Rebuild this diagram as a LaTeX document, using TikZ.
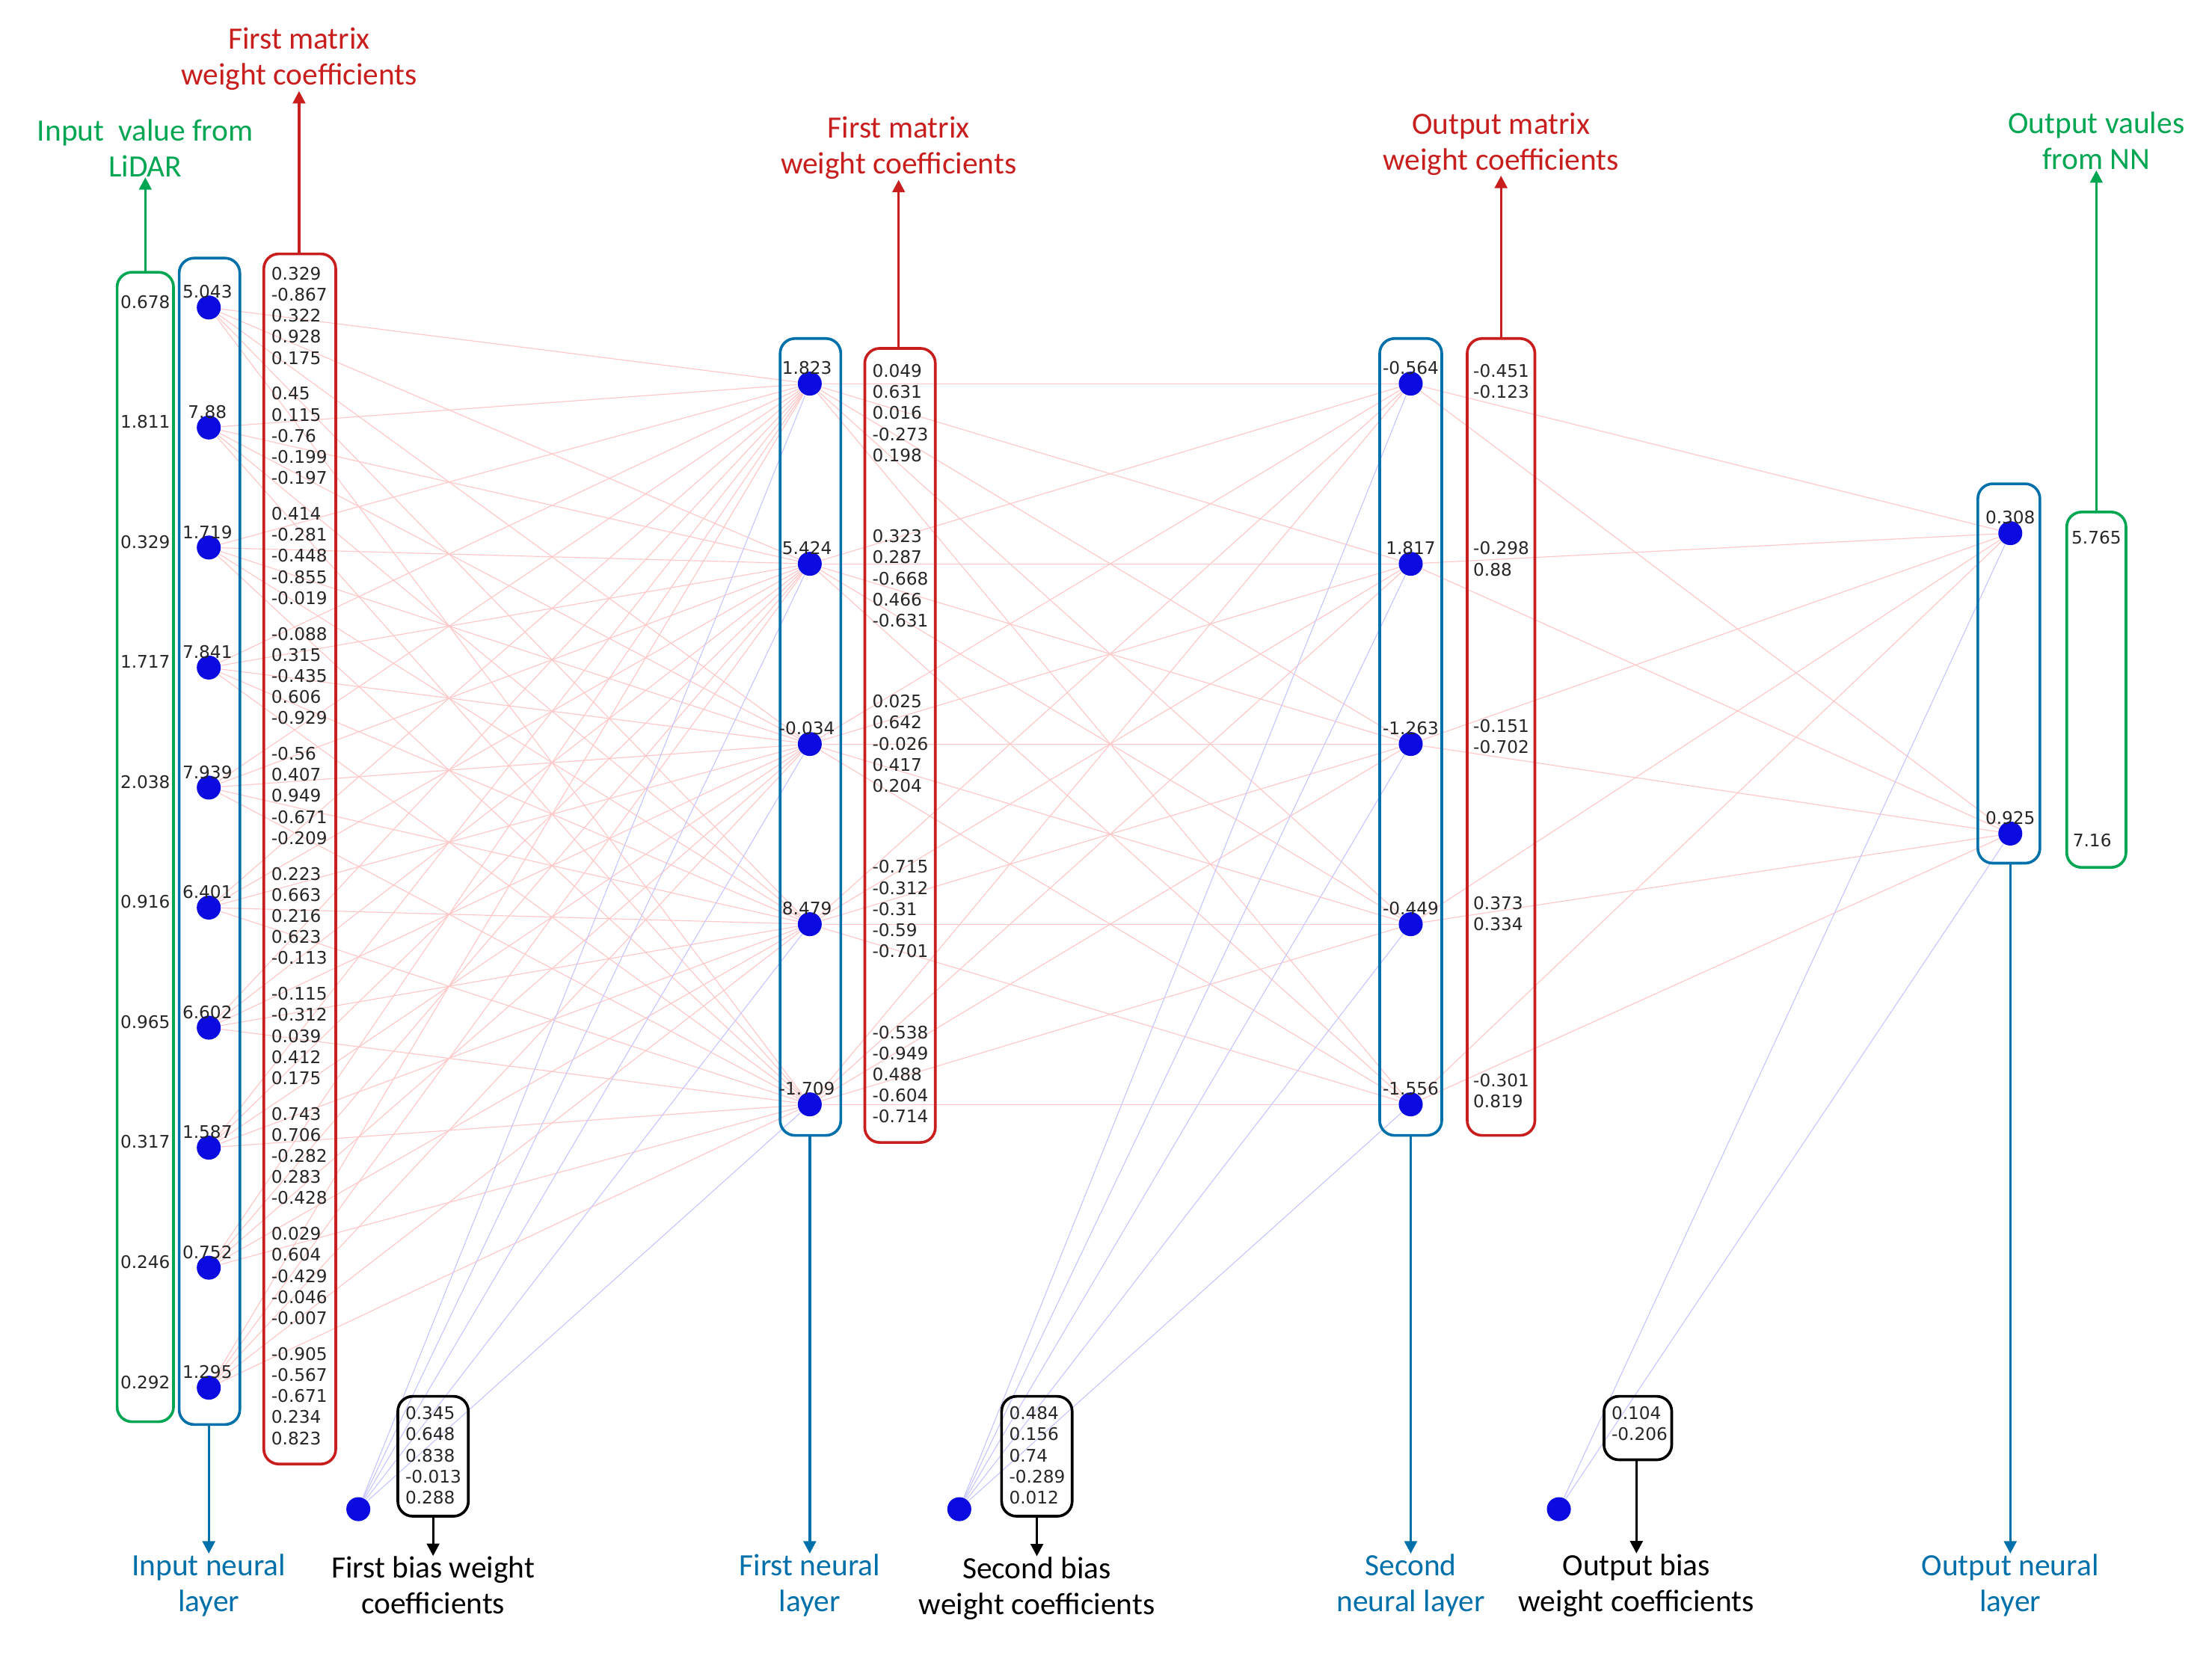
\documentclass[tikz,border=0pt]{standalone}
\usepackage{fontspec}
\setmainfont{Carlito}
\newfontfamily\numfont{DejaVu Sans}
\usetikzlibrary{arrows.meta,positioning,calc}
\definecolor{nngreen}{RGB}{0,166,81}
\definecolor{nnblue}{RGB}{0,112,170}
\definecolor{nnred}{RGB}{200,30,30}
\definecolor{dotblue}{RGB}{10,10,225}
\tikzset{
  neuron/.style={circle,fill=dotblue,draw=none,minimum size=0.34cm,inner sep=0pt},
  num/.style={font=\numfont\fontsize{7}{8.5}\selectfont,text=black!85,inner sep=0pt,align=left},
  lab/.style={font=\fontsize{12.5}{14.5}\selectfont,align=center,inner sep=0pt},
  layerbox/.style={draw=nnblue,line width=1.1pt,rounded corners=6pt},
  weightbox/.style={draw=nnred,line width=1.1pt,rounded corners=6pt},
  valbox/.style={draw=nngreen,line width=1.1pt,rounded corners=6pt},
  biasbox/.style={draw=black,line width=1.1pt,rounded corners=6pt},
  wline/.style={red!22,line width=0.35pt},
  bline/.style={blue!22,line width=0.35pt},
  up/.style={-{Triangle[length=5pt,width=5pt]},line width=1pt},
}
\begin{document}
\begin{tikzpicture}[x=0.02cm,y=-0.02cm]
\useasboundingbox (0,0) rectangle (1568,1178);

% Neurons
\foreach \i in {1,...,10} {
  \pgfmathsetmacro\y{218+85.1*(\i-1)}
  \node[neuron] (in\i) at (148,\y) {};
}
\foreach \i in {1,...,5} {
  \pgfmathsetmacro\y{272+127.75*(\i-1)}
  \node[neuron] (ha\i) at (574,\y) {};
  \node[neuron] (hb\i) at (1000,\y) {};
}
\node[neuron] (out1) at (1425,378) {};
\node[neuron] (out2) at (1425,591) {};
\node[neuron] (bias1) at (254,1070) {};
\node[neuron] (bias2) at (680,1070) {};
\node[neuron] (bias3) at (1105,1070) {};

% Connections
\foreach \i in {1,...,10} \foreach \j in {1,...,5} \draw[wline] (in\i) -- (ha\j);
\foreach \i in {1,...,5} \foreach \j in {1,...,5} \draw[wline] (ha\i) -- (hb\j);
\foreach \i in {1,...,5} \foreach \j in {1,2} \draw[wline] (hb\i) -- (out\j);
\foreach \j in {1,...,5} \draw[bline] (bias1) -- (ha\j);
\foreach \j in {1,...,5} \draw[bline] (bias2) -- (hb\j);
\foreach \j in {1,2} \draw[bline] (bias3) -- (out\j);

% Input values from LiDAR
\draw[valbox] (83,193) rectangle (123,1008);
\foreach \v [count=\i] in {0.678,1.811,0.329,1.717,2.038,0.916,0.965,0.317,0.246,0.292} {
  \node[num] (inv\i) at (103,{214+85.1*(\i-1)}) {\v};
}

% Neuron values
\draw[layerbox] (127,183) rectangle (170,1010);
\foreach \v [count=\i] in {5.043,7.88,1.719,7.841,7.939,6.401,6.602,1.587,0.752,1.295} {
  \node[num,anchor=south] at ($(in\i)+(-1,-6)$) {\v};
}
\draw[layerbox] (553,240) rectangle (596,805);
\foreach \v [count=\i] in {1.823,5.424,-0.034,8.479,-1.709} {
  \node[num,anchor=south] at ($(ha\i)+(-2,-6)$) {\v};
}
\draw[layerbox] (978,240) rectangle (1022,805);
\foreach \v [count=\i] in {-0.564,1.817,-1.263,-0.449,-1.556} {
  \node[num,anchor=south] at ($(hb\i)+(0,-6)$) {\v};
}
\draw[layerbox] (1402,343) rectangle (1446,612);
\node[num,anchor=south] at ($(out1)+(0,-6)$) {0.308};
\node[num,anchor=south] at ($(out2)+(0,-6)$) {0.925};

% Output values
\draw[valbox] (1465,363) rectangle (1507,615);
\node[num] at (1486,381) {5.765};
\node[num] at (1483,596) {7.16};

% First matrix weights
\draw[weightbox] (187,180) rectangle (238,1038);
\foreach \g [count=\i] in {
  {0.329\\-0.867\\0.322\\0.928\\0.175},
  {0.45\\0.115\\-0.76\\-0.199\\-0.197},
  {0.414\\-0.281\\-0.448\\-0.855\\-0.019},
  {-0.088\\0.315\\-0.435\\0.606\\-0.929},
  {-0.56\\0.407\\0.949\\-0.671\\-0.209},
  {0.223\\0.663\\0.216\\0.623\\-0.113},
  {-0.115\\-0.312\\0.039\\0.412\\0.175},
  {0.743\\0.706\\-0.282\\0.283\\-0.428},
  {0.029\\0.604\\-0.429\\-0.046\\-0.007},
  {-0.905\\-0.567\\-0.671\\0.234\\0.823}} {
  \node[num,anchor=north west] at (192,{189+85.1*(\i-1)}) {\g};
}

% Second matrix weights
\draw[weightbox] (613,247) rectangle (663,810);
\foreach \g [count=\i] in {
  {0.049\\0.631\\0.016\\-0.273\\0.198},
  {0.323\\0.287\\-0.668\\0.466\\-0.631},
  {0.025\\0.642\\-0.026\\0.417\\0.204},
  {-0.715\\-0.312\\-0.31\\-0.59\\-0.701},
  {-0.538\\-0.949\\0.488\\-0.604\\-0.714}} {
  \node[num,anchor=north west] at (618,{258+117.2*(\i-1)}) {\g};
}

% Output matrix weights
\draw[weightbox] (1040,240) rectangle (1088,805);
\foreach \g [count=\i] in {
  {-0.451\\-0.123},{-0.298\\0.88},{-0.151\\-0.702},{0.373\\0.334},{-0.301\\0.819}} {
  \node[num,anchor=north west] at (1044,{258+125.75*(\i-1)}) {\g};
}

% Bias weights
\draw[biasbox] (282,990) rectangle (332,1075);
\node[num,anchor=north west] (bw1) at (287,997) {0.345\\0.648\\0.838\\-0.013\\0.288};
\draw[biasbox] (710,990) rectangle (760,1075);
\node[num,anchor=north west] (bw2) at (715,997) {0.484\\0.156\\0.74\\-0.289\\0.012};
\draw[biasbox] (1137,990) rectangle (1185,1035);
\node[num,anchor=north west] (bw3) at (1142,997) {0.104\\-0.206};

% Labels on top
\node[lab,text=nngreen] (lidar) at (103,105) {Input~ value from\\LiDAR};
\node[lab,text=nnred] (w1lab) at (212,42) {First matrix\\weight coefficients};
\node[lab,text=nnred] (w2lab) at (637,105) {First matrix\\weight coefficients};
\node[lab,text=nnred] (w3lab) at (1064,102) {Output matrix\\weight coefficients};
\node[lab,text=nngreen] (nnout) at (1486,100) {Output vaules\\from NN};
\draw[up,nngreen] (103,193) -- (lidar.south);
\draw[up,nnred] (212,180) -- (w1lab.south);
\draw[up,nnred] (637,247) -- (w2lab.south);
\draw[up,nnred] (1064,240) -- (w3lab.south);
\draw[up,nngreen] (1486,363) -- (nnout.south);

% Labels at the bottom
\node[lab,text=nnblue] (inlab) at (148,1124) {Input neural\\layer};
\node[lab,text=nnblue] (halab) at (574,1124) {First neural\\layer};
\node[lab,text=nnblue] (hblab) at (1000,1124) {Second\\neural layer};
\node[lab,text=nnblue] (outlab) at (1425,1124) {Output neural\\layer};
\node[lab] (b1lab) at (307,1124) {First bias weight\\coefficients};
\node[lab] (b2lab) at (735,1126) {Second bias\\weight coefficients};
\node[lab] (b3lab) at (1160,1124) {Output bias\\weight coefficients};
\draw[up,nnblue] (148,1010) -- (inlab.north);
\draw[up,nnblue] (574,805) -- (halab.north);
\draw[up,nnblue] (1000,805) -- (hblab.north);
\draw[up,nnblue] (1425,612) -- (outlab.north);
\draw[up,black] (307,1075) -- (b1lab.north);
\draw[up,black] (735,1075) -- (b2lab.north);
\draw[up,black] (1160,1035) -- (b3lab.north);
\end{tikzpicture}
\end{document}
